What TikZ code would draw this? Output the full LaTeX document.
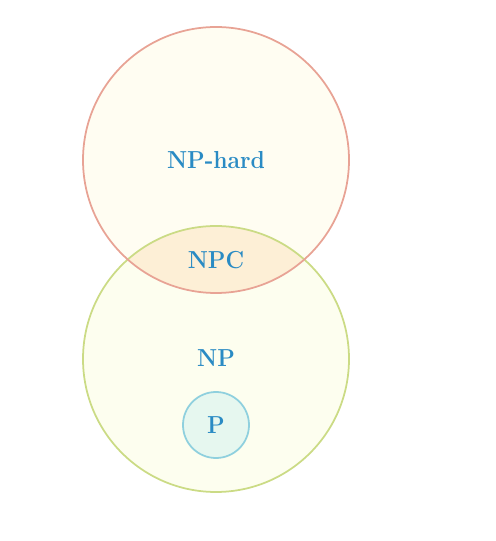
\documentclass[tikz,border=0pt]{standalone}
\usepackage{tikz}
\usetikzlibrary{positioning}

\definecolor{hardline}{HTML}{E8A395}
\definecolor{hardfill}{HTML}{FFFDF2}
\definecolor{npline}{HTML}{CBDB85}
\definecolor{npfill}{HTML}{FDFEEF}
\definecolor{npcfill}{HTML}{FDEFD6}
\definecolor{pline}{HTML}{8FD0DE}
\definecolor{pfill}{HTML}{E6F7EF}
\definecolor{labelblue}{HTML}{2A8BC4}

\tikzset{
  setlabel/.style = {text = labelblue, font = \fontsize{14}{16}\selectfont\bfseries,
                     xscale = 0.93, transform shape},
}

\begin{document}
\begin{tikzpicture}[x = 0.02cm, y = 0.02cm]
            \useasboundingbox (0,0) rectangle (495,541);
            \coordinate (hard) at (216,381);
            \coordinate (np) at (216,182);
            \coordinate (p) at (216,116);
            \fill[hardfill] (hard) circle (133);
            \fill[npfill] (np) circle (133);
            \begin{scope}
                \clip (hard) circle (133);
                \fill[npcfill] (np) circle (133);
            \end{scope}
            \draw[npline, line width = 1pt] (np) circle (133);
            \draw[hardline, line width = 1pt] (hard) circle (133);
            \draw[pline, fill = pfill, line width = 1pt] (p) circle (33);
            \node[setlabel] (hardlabel) at (hard) {NP-hard};
            \node[setlabel] (npclabel) at (216,281) {NPC};
            \node[setlabel] (nplabel) at (216,183) {NP};
            \node[setlabel] (plabel) at (p) {P};
        \end{tikzpicture}
\end{document}
